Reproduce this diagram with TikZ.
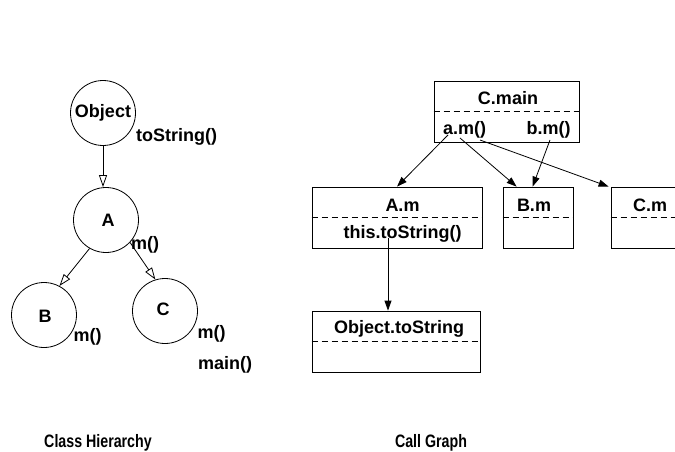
\documentclass[tikz,border=0pt]{standalone}
\usepackage{fontspec}
\setmainfont{Liberation Sans}
\usetikzlibrary{arrows.meta}
\begin{document}
\begin{tikzpicture}[x=1pt,y=-1pt,
  lbl/.style={font=\fontsize{18}{20}\selectfont\bfseries, inner sep=0pt},
  cls/.style={draw, circle, line width=0.8pt, minimum size=65pt, inner sep=0pt},
  box/.style={draw, rectangle, line width=0.8pt, minimum height=61pt, inner sep=0pt},
  sep/.style={dash pattern=on 6pt off 4pt, line width=0.8pt},
  inh/.style={-{Triangle[open, length=12pt, width=8pt]}, line width=0.8pt},
  call/.style={-{Triangle[length=10pt, width=7pt]}, line width=0.8pt},
  ttl/.style={font=\fontsize{18}{20}\selectfont\bfseries, inner sep=0pt}]
\useasboundingbox (0,0) rectangle (675,452);

% ---- Class hierarchy ----
\node[cls] (obj) at (103,113) {};
\node[cls] (A) at (106,220) {};
\node[cls] (B) at (44,315) {};
\node[cls] (C) at (165,311) {};

\node[lbl] (tobj) at (103,113) {Object};
\node[lbl] (tA) at (108,220) {A};
\node[lbl] (tB) at (45,316) {B};
\node[lbl] (tC) at (163,309) {C};
\node[lbl] (ots) at (176.5,137) {toString()};
\node[lbl] (am) at (145,245) {m()};
\node[lbl] (bm) at (87.5,337) {m()};
\node[lbl] (cm) at (211.5,334) {m()};
\node[lbl] (cmain) at (225,365) {main()};

\draw[inh] (obj.south) -- (obj.south |- A.north);
\draw[inh] (A.-120) -- (B.62);
\draw[inh] (A.-43) -- (C.107);

% ---- Call graph ----
\node[box, minimum width=145pt] (CM) at (506.5,111.5) {};
\node[box, minimum width=170pt] (AM) at (397,217.5) {};
\node[box, minimum width=70pt] (BM) at (538,217.5) {};
\node[box, minimum width=70pt] (CMm) at (646,217.5) {};
\node[box, minimum width=168pt] (OT) at (396,341.5) {};

\draw[sep] (CM.west) -- (CM.east);
\draw[sep] (AM.west) -- (AM.east);
\draw[sep] (BM.west) -- (BM.east);
\draw[sep] (CMm.west) -- (CMm.east);
\draw[sep] (OT.west) -- (OT.east);

\node[lbl] (tCM) at (508,98) {C.main};
\node[lbl] (tam) at (464.5,130) {a.m()};
\node[lbl] (tbm) at (548.5,130) {b.m()};
\node[lbl] (tAM) at (402.5,205) {A.m};
\node[lbl] (tts) at (402.5,234) {this.toString()};
\node[lbl] (tBM) at (534,205) {B.m};
\node[lbl] (tCMm) at (650,205) {C.m};
\node[lbl] (tOT) at (399,329) {Object.toString};

\coordinate (a1) at (448,135);
\coordinate (a2) at (460,138);
\coordinate (a3) at (480,140);
\coordinate (b1) at (550,140);
\coordinate (t1) at (388,238);

\draw[call] (a1) -- (AM.north);
\draw[call] (a2) -- ([xshift=14pt]BM.north west);
\draw[call] (a3) -- ([xshift=-2pt]CMm.north west);
\draw[call] (b1) -- ([xshift=30pt]BM.north west);
\draw[call] (t1) -- (t1 |- OT.north);

% ---- Titles ----
\node[ttl] (h1) at (98,443) {\scalebox{0.79}[1]{Class Hierarchy}};
\node[ttl] (h2) at (431,443) {\scalebox{0.79}[1]{Call Graph}};
\end{tikzpicture}
\end{document}
